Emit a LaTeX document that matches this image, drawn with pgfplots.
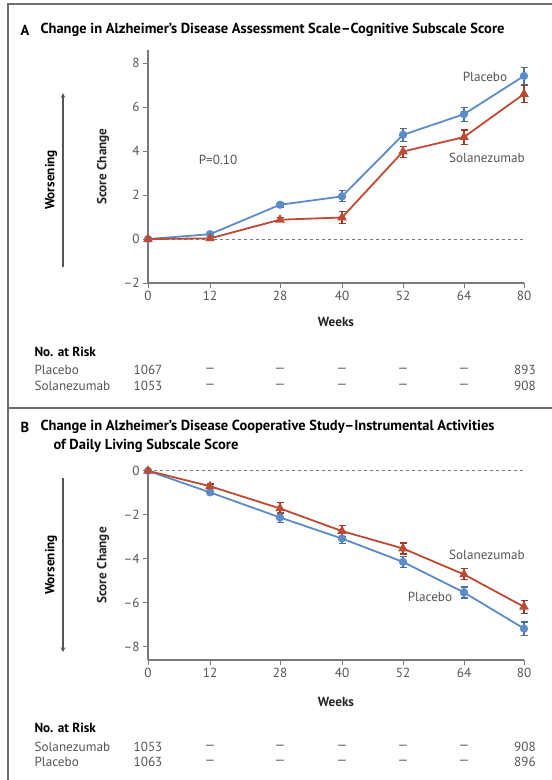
\documentclass[border=0pt]{standalone}
\usepackage{fontspec}
\setmainfont{PT Sans}
\usepackage{pgfplots}
\pgfplotsset{compat=1.18}

\definecolor{pblue}{HTML}{5B8CC8}
\definecolor{sred}{HTML}{BF4A33}
\definecolor{axgray}{HTML}{7A7A7A}
\definecolor{txt}{HTML}{555555}
\definecolor{framec}{HTML}{6E6E6E}

\newcommand{\tfont}{\fontsize{14.5}{16}\selectfont\bfseries}
\newcommand{\lfont}{\fontsize{13.2}{15}\selectfont}

% weeks are drawn at the (uneven) positions of the printed axis:
% 0->0, 12->62, 28->132, 40->194, 52->255, 64->316, 80->376
\pgfplotsset{
  panel/.style={
    scale only axis, width=376pt, height=233pt,
    xmin=0, xmax=376, xtick={0,62,132,194,255,316,376},
    xticklabels={0,12,28,40,52,64,80},
    axis lines=left, axis line style={-, axgray, line width=1.1pt},
    tick align=outside, major tick length=5pt,
    tick style={axgray, line width=0.9pt},
    every tick label/.append style={font=\lfont, text=txt},
    /pgf/number format/assume math mode=true,
    xlabel={Weeks}, ylabel={Score Change},
    label style={font=\lfont\bfseries, text=black!85},
    xlabel style={at={(axis description cs:0.5,-0.1674)}, anchor=center},
    ylabel style={at={(axis description cs:-0.1197,0.5)}, anchor=center},
    clip=false,
  },
  pla/.style={pblue, line width=1.8pt, mark=*, mark size=3.2pt,
    error bars/.cd, y dir=both, y explicit,
    error bar style={line width=1.1pt, pblue!80!black},
    error mark options={rotate=90, mark size=3.5pt, line width=1.1pt, pblue!80!black}},
  sol/.style={sred, line width=1.8pt, mark=triangle*, mark size=3.8pt,
    error bars/.cd, y dir=both, y explicit,
    error bar style={line width=1.1pt, sred!80!black},
    error mark options={rotate=90, mark size=3.5pt, line width=1.1pt, sred!80!black}},
}

\begin{document}
\begin{tikzpicture}
\path[use as bounding box] (0pt,0pt) rectangle (552pt,-780pt);

% frame
\draw[framec, line width=1.4pt] (552pt,-4pt) -- (8pt,-4pt) -- (8pt,-780pt);
\draw[framec, line width=1.4pt] (8pt,-408pt) -- (552pt,-408pt);

% ---------- Panel A ----------
\node[anchor=west, font=\tfont] at (17pt,-30pt) {A};
\node[anchor=west, font=\tfont] at (37pt,-30pt) {Change in Alzheimer’s Disease Assessment Scale–Cognitive Subscale Score};

\draw[txt, line width=1.1pt, -stealth] (63pt,-267pt) -- (63pt,-93pt);
\node[rotate=90, font=\lfont\bfseries] at (51pt,-180pt) {Worsening};

\begin{axis}[panel, at={(148pt,-283pt)}, anchor=south west,
  ymin=-2, ymax=8.6, ytick={-2,0,2,4,6,8},
  yticklabels={\textendash2,0,2,4,6,8}]
\addplot[axgray, dashed, line width=0.9pt, forget plot] coordinates {(0,0) (376,0)};
\addplot[pla] coordinates {
 (0,0) +- (0,0.05) (62,0.22) +- (0,0.08) (132,1.56) +- (0,0.1) (194,1.94) +- (0,0.25)
 (255,4.74) +- (0,0.3) (316,5.68) +- (0,0.32) (376,7.42) +- (0,0.4)};
\addplot[sol] coordinates {
 (0,0) +- (0,0.05) (62,0.03) +- (0,0.08) (132,0.88) +- (0,0.1) (194,0.98) +- (0,0.27)
 (255,3.98) +- (0,0.25) (316,4.64) +- (0,0.32) (376,6.6) +- (0,0.4)};
\node[font=\lfont, text=txt] at (axis cs:337,7.36) {Placebo};
\node[font=\lfont, text=txt] at (axis cs:339,3.68) {Solanezumab};
\node[font=\lfont, text=txt] at (axis cs:70,3.59) {P=0.10};
\end{axis}

\node[anchor=west, font=\lfont\bfseries] at (31pt,-352pt) {No. at Risk};
\node[anchor=west, font=\lfont, text=txt] at (31pt,-370pt) {Placebo};
\node[anchor=west, font=\lfont, text=txt] at (31pt,-386pt) {Solanezumab};
\foreach \xx/\aa/\bb in {148/1067/1053, 210/—/—, 280/—/—, 342/—/—, 403/—/—, 464/—/—, 525/893/908}{
  \node[font=\lfont, text=txt] at (\xx pt,-370pt) {\aa};
  \node[font=\lfont, text=txt] at (\xx pt,-386pt) {\bb};
}

% ---------- Panel B ----------
\node[anchor=west, font=\tfont] at (17pt,-427pt) {B};
\node[anchor=west, font=\tfont] at (37pt,-427pt) {Change in Alzheimer’s Disease Cooperative Study–Instrumental Activities};
\node[anchor=west, font=\tfont] at (50pt,-446pt) {of Daily Living Subscale Score};

\draw[txt, line width=1.1pt, -stealth] (63pt,-478pt) -- (63pt,-652pt);
\node[rotate=90, font=\lfont\bfseries] at (51pt,-565pt) {Worsening};

\begin{axis}[panel, at={(148pt,-660pt)}, anchor=south west,
  ymin=-8.6, ymax=0, ytick={-8,-6,-4,-2,0},
  yticklabels={\textendash8,\textendash6,\textendash4,\textendash2,0},
  height=189.2pt,
  xlabel style={at={(axis description cs:0.5,-0.222)}},
  ylabel style={at={(axis description cs:-0.1197,0.5)}}]
\addplot[axgray, dashed, line width=0.9pt, forget plot] coordinates {(0,0) (376,0)};
\addplot[pla] coordinates {
 (0,0) +- (0,0.05) (62,-0.98) +- (0,0.1) (132,-2.12) +- (0,0.22) (194,-3.08) +- (0,0.22)
 (255,-4.14) +- (0,0.25) (316,-5.53) +- (0,0.25) (376,-7.17) +- (0,0.3)};
\addplot[sol] coordinates {
 (0,0) +- (0,0.05) (62,-0.70) +- (0,0.1) (132,-1.71) +- (0,0.25) (194,-2.74) +- (0,0.25)
 (255,-3.53) +- (0,0.25) (316,-4.71) +- (0,0.25) (376,-6.18) +- (0,0.3)};
\node[font=\lfont, text=txt] at (axis cs:339,-3.83) {Solanezumab};
\node[font=\lfont, text=txt] at (axis cs:282,-5.74) {Placebo};
\end{axis}

\node[anchor=west, font=\lfont\bfseries] at (31pt,-728pt) {No. at Risk};
\node[anchor=west, font=\lfont, text=txt] at (31pt,-747pt) {Solanezumab};
\node[anchor=west, font=\lfont, text=txt] at (31pt,-762pt) {Placebo};
\foreach \xx/\aa/\bb in {148/1053/1063, 210/—/—, 280/—/—, 342/—/—, 403/—/—, 464/—/—, 525/908/896}{
  \node[font=\lfont, text=txt] at (\xx pt,-747pt) {\aa};
  \node[font=\lfont, text=txt] at (\xx pt,-762pt) {\bb};
}
\end{tikzpicture}
\end{document}
